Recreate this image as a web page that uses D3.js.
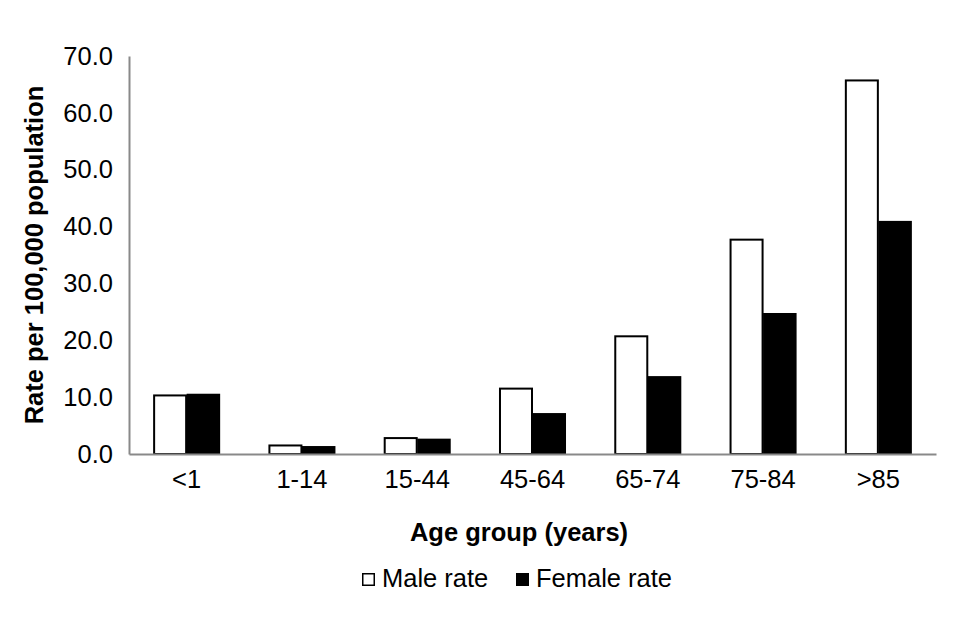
<!DOCTYPE html>
<html>
<head>
<meta charset="utf-8">
<script src="https://cdn.jsdelivr.net/npm/d3@7"></script>
<style>
  body { margin: 0; background: #fff; }
  text { font-family: "Liberation Sans", Arial, sans-serif; }
</style>
</head>
<body>
<div id="graph"></div>
<script>
const ageGroups = ["<1", "1-14", "15-44", "45-64", "65-74", "75-84", ">85"];
const maleRate = [10.3, 1.5, 2.8, 11.5, 20.7, 37.7, 65.7];
const femaleRate = [10.6, 1.4, 2.7, 7.2, 13.7, 24.8, 41.0];
const seriesNames = ["Male rate", "Female rate"];
const yTicks = [0, 10, 20, 30, 40, 50, 60, 70];

const width = 960;
const height = 640;
const margin = { top: 56, right: 24, bottom: 186, left: 129 };
const fontSize = "25.5px";

const svg = d3
  .select("#graph")
  .append("svg")
  .attr("width", width)
  .attr("height", height);

const rows = ageGroups.map(function(g, i) {
  return { group: g, values: [maleRate[i], femaleRate[i]] };
});

const xscale = d3
  .scaleBand()
  .domain(ageGroups)
  .range([margin.left, width - margin.right]);

const inner = d3
  .scaleBand()
  .domain([0, 1])
  .range([0, xscale.bandwidth()])
  .paddingOuter(0.72)
  .paddingInner(0);

const yscale = d3
  .scaleLinear()
  .domain([0, 70])
  .range([height - margin.bottom, margin.top]);

const fills = ["#ffffff", "#000000"];

// bars
const groups = svg
  .selectAll(".grp")
  .data(rows)
  .enter()
  .append("g")
  .attr("class", "grp")
  .attr("transform", function(d) { return "translate(" + xscale(d.group) + ",0)"; });

groups
  .selectAll("rect")
  .data(function(d) { return d.values; })
  .enter()
  .append("rect")
  .attr("x", function(d, i) { return inner(i) + (i === 0 ? 1 : 0); })
  .attr("width", function(d, i) { return inner.bandwidth() - (i === 0 ? 1.5 : 0); })
  .attr("y", function(d) { return yscale(d); })
  .attr("height", function(d) { return yscale(0) - yscale(d); })
  .attr("fill", function(d, i) { return fills[i]; })
  .attr("stroke", "#000")
  .attr("stroke-width", function(d, i) { return i === 0 ? 2 : 0; });

// y axis
const yAxis = d3
  .axisLeft(yscale)
  .tickValues(yTicks)
  .tickSize(0)
  .tickPadding(16)
  .tickFormat(d3.format(".1f"));

const gy = svg
  .append("g")
  .attr("transform", "translate(" + margin.left + ",0)")
  .call(yAxis);
gy.select(".domain").attr("stroke", "#898989").attr("stroke-width", 2);
gy.selectAll("text").attr("font-size", fontSize).attr("fill", "#000");

// x axis
const xAxis = d3.axisBottom(xscale).tickSize(0).tickPadding(16);
const gx = svg
  .append("g")
  .attr("transform", "translate(0," + yscale(0) + ")")
  .call(xAxis);
gx.select(".domain").attr("stroke", "#898989").attr("stroke-width", 2);
gx.selectAll("text").attr("font-size", fontSize).attr("fill", "#000");

// titles
svg
  .append("text")
  .attr("transform", "translate(43," + (margin.top + yscale(0)) / 2 + ") rotate(-90)")
  .attr("text-anchor", "middle")
  .attr("font-size", fontSize)
  .attr("font-weight", "bold")
  .text("Rate per 100,000 population");

svg
  .append("text")
  .attr("x", 519)
  .attr("y", 541)
  .attr("text-anchor", "middle")
  .attr("font-size", fontSize)
  .attr("font-weight", "bold")
  .text("Age group (years)");

// legend
const legendX = [362, 516];
const legend = svg
  .selectAll(".legend")
  .data(seriesNames)
  .enter()
  .append("g")
  .attr("class", "legend")
  .attr("transform", function(d, i) { return "translate(" + legendX[i] + ",573)"; });

legend
  .append("rect")
  .attr("x", 0.75)
  .attr("y", 0.75)
  .attr("width", 11.5)
  .attr("height", 11.5)
  .attr("fill", function(d, i) { return fills[i]; })
  .attr("stroke", "#000")
  .attr("stroke-width", 1.5);

legend
  .append("text")
  .attr("x", 20)
  .attr("y", 13.5)
  .attr("font-size", fontSize)
  .text(function(d) { return d; });
</script>
</body>
</html>
